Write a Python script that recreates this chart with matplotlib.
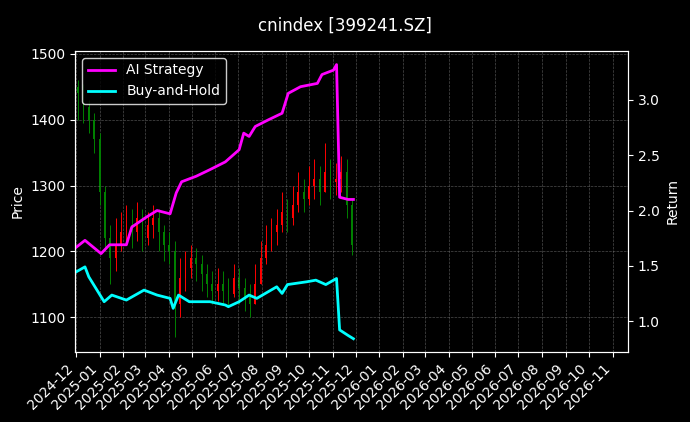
import matplotlib
matplotlib.use("Agg")
import matplotlib.pyplot as plt
import matplotlib.dates as mdates
import pandas as pd
import numpy as np

week_start = "2024-12-02"
closes = [1440,1420,1400,1370,1290,1220,1190,1210,1230,1240,1230,1250,1220,1240,1250,1230,1210,1200,
          1120,1160,1175,1190,1180,1165,1150,1140,1150,1140,1135,1160,1145,1130,1120,1150,1190,1210,
          1230,1240,1260,1250,1270,1290,1280,1300,1310,1290,1320,1305,1310,1320,1270,1210]
highs = [1460,1455,1430,1410,1380,1300,1240,1250,1260,1270,1265,1275,1265,1260,1270,1265,1240,1230,
         1215,1190,1200,1210,1205,1195,1180,1170,1175,1170,1160,1180,1175,1160,1150,1180,1215,1240,
         1250,1265,1290,1280,1300,1320,1310,1330,1340,1330,1365,1340,1335,1345,1340,1280]
lows = [1400,1395,1380,1350,1270,1200,1150,1170,1200,1210,1205,1215,1200,1210,1220,1200,1185,1180,
        1070,1100,1140,1160,1155,1140,1130,1120,1125,1120,1115,1130,1120,1110,1100,1120,1150,1180,
        1200,1210,1230,1230,1240,1260,1260,1270,1280,1270,1290,1280,1285,1290,1250,1195]
first_open = 1450

ai_dates = ["2024-12-02","2024-12-13","2025-01-03","2025-01-14","2025-02-05","2025-02-12","2025-03-03",
            "2025-03-17","2025-04-03","2025-04-11","2025-04-18","2025-05-07","2025-05-25","2025-06-14",
            "2025-07-02","2025-07-08","2025-07-15","2025-07-23","2025-08-09","2025-08-27","2025-09-04",
            "2025-09-20","2025-10-12","2025-10-18","2025-11-02","2025-11-06","2025-11-10","2025-11-21","2025-11-28"]
ai_vals = [1.67,1.73,1.61,1.69,1.69,1.85,1.94,2.00,1.97,2.16,2.26,2.31,2.37,2.44,2.55,2.70,2.67,2.76,
           2.82,2.88,3.06,3.12,3.15,3.23,3.27,3.32,2.12,2.10,2.10]

bh_dates = ["2024-12-02","2024-12-13","2024-12-18","2025-01-03","2025-01-07","2025-01-17","2025-02-05",
            "2025-02-28","2025-03-17","2025-04-03","2025-04-07","2025-04-14","2025-04-28","2025-05-25",
            "2025-06-14","2025-06-18","2025-07-02","2025-07-15","2025-07-25","2025-08-20","2025-08-27",
            "2025-09-03","2025-09-28","2025-10-10","2025-10-23","2025-11-06","2025-11-10","2025-11-21","2025-11-28"]
bh_vals = [1.447,1.49,1.40,1.22,1.175,1.235,1.19,1.28,1.235,1.205,1.115,1.235,1.175,1.175,1.145,1.13,
           1.175,1.235,1.205,1.31,1.25,1.33,1.355,1.37,1.33,1.385,0.92,0.87,0.84]

plt.rcParams['font.family'] = ['DejaVu Sans']
fig = plt.figure(figsize=(6.9, 4.22), dpi=100, facecolor='black')
ax = fig.add_axes([75/690, 1-352/422, (628-75)/690, (352-51)/422])
ax.set_facecolor('black')

dates = pd.date_range(week_start, periods=len(closes), freq="7D")
opens = [first_open] + closes[:-1]
for d, o, h, l, c in zip(dates, opens, highs, lows, closes):
    col = 'red' if c >= o else 'green'
    x = d + pd.Timedelta(days=2)
    ax.vlines(x, l, h, color=col, linewidth=0.7)
    ax.bar(x, abs(c - o) if c != o else 1, bottom=min(o, c), width=2.2, color=col, linewidth=0)

ax.set_ylim(1047, 1504.5)
ax.set_ylabel("Price", color='white')
ax.grid(True, color='gray', linestyle='--', linewidth=0.5, alpha=0.6)

ax2 = ax.twinx()
l1, = ax2.plot(pd.to_datetime(ai_dates), ai_vals, color='magenta', lw=2, label='AI Strategy')
l2, = ax2.plot(pd.to_datetime(bh_dates), bh_vals, color='cyan', lw=2, label='Buy-and-Hold')
ax2.set_ylim(0.72, 3.443)
ax2.set_ylabel("Return", color='white')

ax.set_xlim(pd.Timestamp("2024-11-30"), pd.Timestamp("2026-11-21"))
ax.xaxis.set_major_locator(mdates.MonthLocator())
ax.xaxis.set_major_formatter(mdates.DateFormatter("%Y-%m"))
for lab in ax.get_xticklabels():
    lab.set_rotation(45); lab.set_ha('right')

for a in (ax, ax2):
    a.tick_params(colors='white')
    for s in a.spines.values():
        s.set_color('white')

leg = ax2.legend(handles=[l1, l2], loc='upper left', facecolor='black', edgecolor='white', labelcolor='white')
fig.suptitle("cnindex [399241.SZ]", color='white', y=0.96)
fig.savefig("out.png", dpi=100, facecolor='black')
